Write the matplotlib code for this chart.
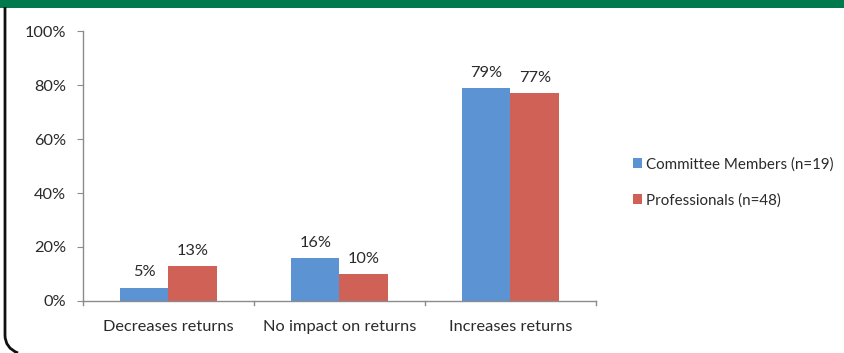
import matplotlib.pyplot as plt
import matplotlib.patches as patches
from matplotlib.path import Path
import numpy as np

categories = ['Decreases returns', 'No impact on returns', 'Increases returns']
series_names = ['Committee Members (n=19)', 'Professionals (n=48)']
committee = [5, 16, 79]
professionals = [13, 10, 77]
y_ticks = [0, 20, 40, 60, 80, 100]

blue = '#5b93d3'
red = '#cf6157'
text_col = '#2a2a2a'
axis_col = '#8c8c8c'

plt.rcParams['font.family'] = ['Lato', 'DejaVu Sans']

W, H = 845, 353
fig = plt.figure(figsize=(W / 100, H / 100), dpi=100)

# frame decoration: green top band, black left edge with rounded corner
deco = fig.add_axes([0, 0, 1, 1])
deco.set_xlim(0, W)
deco.set_ylim(H, 0)
deco.axis('off')
deco.add_patch(patches.Rectangle((0, 0), W, 7.5, color='#007a4c', lw=0))
verts = [(5, 7), (5, 335), (5, 348), (18, 353)]
codes = [Path.MOVETO, Path.LINETO, Path.CURVE3, Path.CURVE3]
deco.add_patch(patches.PathPatch(Path(verts, codes), fill=False, lw=2, ec='#111111'))

ax = fig.add_axes([83 / W, (H - 301) / H, (596 - 83) / W, 270 / H])
x = np.arange(len(categories))
bw = 0.284
b1 = ax.bar(x - bw / 2, committee, bw, color=blue, label=series_names[0])
b2 = ax.bar(x + bw / 2, professionals, bw, color=red, label=series_names[1])

fs = 11.8
for bars, vals in ((b1, committee), (b2, professionals)):
    for rect, v in zip(bars, vals):
        ax.text(rect.get_x() + rect.get_width() / 2, v + 3, f'{v}%',
                ha='center', va='bottom', fontsize=fs, color=text_col)

ax.set_xlim(-0.5, 2.5)
ax.set_ylim(0, 100)
ax.set_yticks(y_ticks)
ax.set_yticklabels([f'{t}%' for t in y_ticks])
ax.set_xticks(x)
ax.set_xticklabels(categories)
ax.tick_params(axis='x', length=0, pad=14, labelsize=fs, labelcolor=text_col)
ax.tick_params(axis='y', length=4, color=axis_col, pad=8, labelsize=fs, labelcolor=text_col)
# category separators on the x axis
for b in [-0.5, 0.5, 1.5, 2.5]:
    ax.plot([b, b], [0, -1.6], color=axis_col, lw=1, clip_on=False)

for s in ['top', 'right']:
    ax.spines[s].set_visible(False)
for s in ['left', 'bottom']:
    ax.spines[s].set_color(axis_col)
    ax.spines[s].set_linewidth(1)

leg = ax.legend(loc='center left', bbox_to_anchor=(1.06, 0.44), frameon=False,
                fontsize=10.9, handlelength=0.6, handleheight=0.6,
                handletextpad=0.25, labelspacing=1.45, borderaxespad=0)
for t in leg.get_texts():
    t.set_color(text_col)

fig.savefig('out.png', dpi=100)
